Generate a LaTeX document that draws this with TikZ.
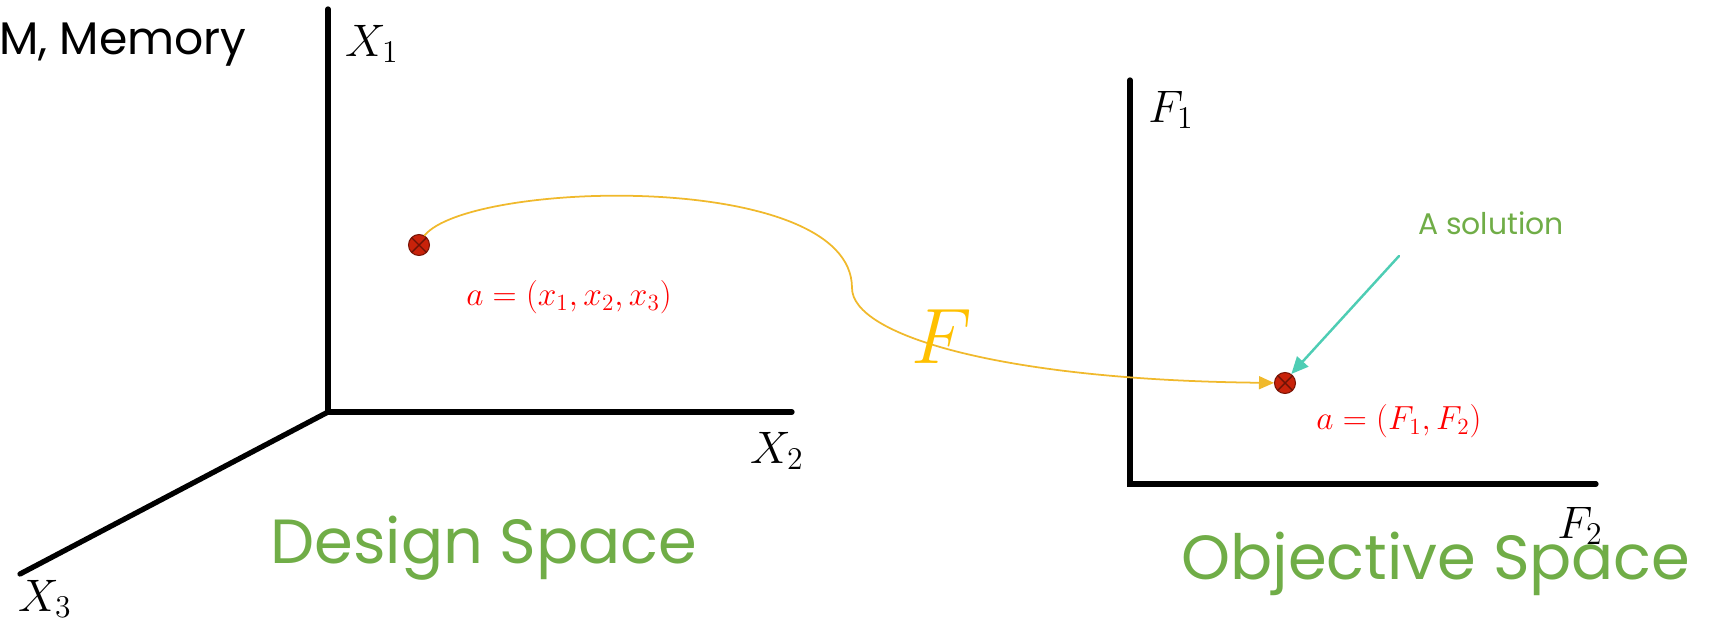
\documentclass[tikz,border=0pt]{standalone}
\usepackage{amsmath,amssymb}
\usepackage{fontspec}
\setmainfont{Poppins}
\usetikzlibrary{arrows.meta}
\usepackage{xcolor}
\definecolor{spacegreen}{RGB}{112,173,71}
\definecolor{mapgold}{RGB}{240,185,44}
\definecolor{bigF}{RGB}{255,192,0}
\definecolor{pointred}{RGB}{200,34,10}
\definecolor{solteal}{RGB}{78,205,180}

\begin{document}
\begin{tikzpicture}[x=0.02cm,y=-0.02cm,line cap=round,
  axis/.style={line width=3pt,black},
  axlabel/.style={font=\huge,scale=1.25,inner sep=0pt},
  spacename/.style={text=spacegreen,font=\fontsize{35.5}{42}\selectfont,inner sep=0pt},
  pt/.style={circle,draw=pointred!60!black,fill=pointred,minimum size=0.42cm,inner sep=0pt,line width=0.6pt,
    path picture={\draw[pointred!55!black,line width=0.8pt]
      (path picture bounding box.north west) -- (path picture bounding box.south east)
      (path picture bounding box.north east) -- (path picture bounding box.south west);}},
  ptlabel/.style={text=red,font=\LARGE,scale=1.1,inner sep=0pt},
  map/.style={mapgold,line width=1pt,-{Triangle[length=3mm,width=2.6mm]}},
  hint/.style={solteal,line width=1.4pt,-{Triangle[length=3.4mm,width=3mm]}}]
\useasboundingbox (0,0) rectangle (1724,623);
% design space
\coordinate (origD) at (328,412);
\coordinate (endX1) at (328,9);
\coordinate (endX2) at (792,412);
\coordinate (endX3) at (20,574);
\draw[axis] (endX1) -- (origD) -- (endX2);
\draw[axis] (origD) -- (endX3);
\node[axlabel] (labX1) at (372,44) {$X_1$};
\node[axlabel] (labX2) at (777,451) {$X_2$};
\node[axlabel] (labX3) at (45,599) {$X_3$};
\node[anchor=east,font=\fontsize{26}{31}\selectfont,inner sep=0pt] (memory) at (247,45) {M, Memory};
\node[spacename] (design) at (484,548) {Design Space};
% objective space
\coordinate (origO) at (1130,484);
\coordinate (endF1) at (1130,80);
\coordinate (endF2) at (1596,484);
\draw[axis] (endF1) -- (origO) -- (endF2);
\node[axlabel] (labF1) at (1171,110) {$F_1$};
\node[axlabel] (labF2) at (1580,526) {$F_2$};
\node[spacename] (objective) at (1436,564) {Objective Space};
% the solution and its image
\node[pt] (ptD) at (419,245) {};
\node[ptlabel] (labD) at (569,297) {$a=(x_1,x_2,x_3)$};
\node[pt] (ptO) at (1285,383) {};
\node[ptlabel] (labO) at (1399,421) {$a=(F_1,F_2)$};
\coordinate (bend) at (852,288);
\draw[map] (ptD.60) .. controls (470,180) and (852,170) .. (bend)
  .. controls (852,335) and (1000,380) .. (ptO);
\node[text=bigF,font=\Huge,scale=1.8,inner sep=0pt] (mapF) at (942,337) {$F$};
\node[text=spacegreen,font=\fontsize{17}{20}\selectfont,inner sep=0pt] (solution) at (1491,223) {A solution};
\coordinate (hintStart) at (1399,256);
\draw[hint] (hintStart) -- (ptO.55);
\end{tikzpicture}
\end{document}
